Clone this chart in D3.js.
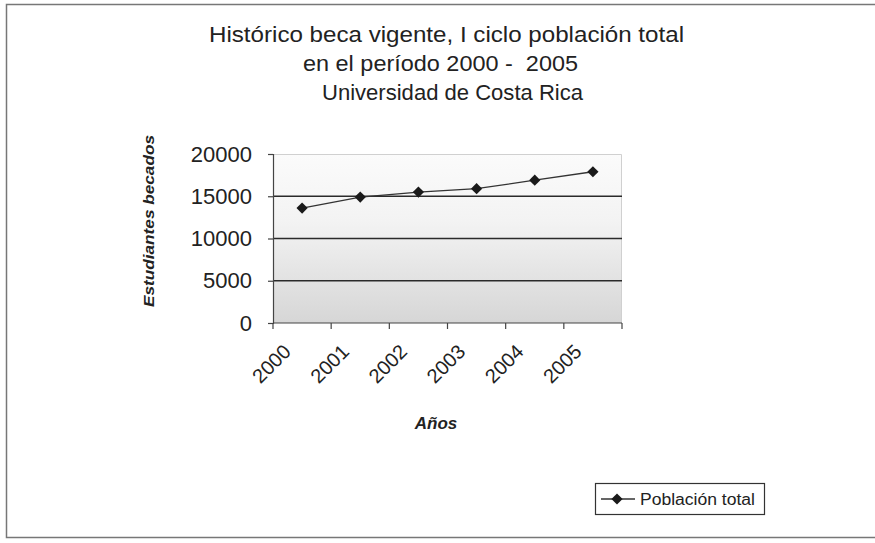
<!DOCTYPE html>
<html>
<head>
<meta charset="utf-8">
<script src="https://cdn.jsdelivr.net/npm/d3@7"></script>
<style>
  html, body { margin: 0; padding: 0; background: #fff; }
  svg { display: block; font-family: "Liberation Sans", Arial, sans-serif; }
</style>
</head>
<body>
<svg id="chart" width="875" height="543"></svg>
<script>
// Becas vigentes, I ciclo, población total (UCR)
const years = ["2000", "2001", "2002", "2003", "2004", "2005"];
const poblacionTotal = [13600, 14900, 15500, 15900, 16900, 17900];
const yTicks = [0, 5000, 10000, 15000, 20000];
const titleLines = [
  "Histórico beca vigente, I ciclo población total",
  "en el período 2000 -  2005",
  "Universidad de Costa Rica"
];
const seriesName = "Población total";

const svg = d3.select("#chart");
const ink = "#222";

// outer chart frame
svg.append("rect")
  .attr("x", 6.5).attr("y", 4.5)
  .attr("width", 880).attr("height", 533)
  .attr("fill", "#fff")
  .attr("stroke", "#777").attr("stroke-width", 1.5);

// title: each line set at its own start and run length
const titleLayout = [
  { x: 209, y: 42, len: 475 },
  { x: 303, y: 71, len: 275 },
  { x: 322, y: 100, len: 261 }
];
svg.append("g")
  .selectAll("text")
  .data(titleLines)
  .join("text")
  .attr("x", (d, i) => titleLayout[i].x)
  .attr("y", (d, i) => titleLayout[i].y)
  .attr("textLength", (d, i) => titleLayout[i].len)
  .attr("lengthAdjust", "spacingAndGlyphs")
  .attr("fill", ink)
  .style("font-size", "22px")
  .style("white-space", "pre")
  .text(d => d);

const plot = { left: 273, right: 622, top: 154, bottom: 323 };

const x = d3.scaleBand().domain(years).range([plot.left, plot.right]);
const y = d3.scaleLinear().domain([0, 20000]).range([plot.bottom, plot.top]);

// plot area background: light at top, greyer toward the base
const defs = svg.append("defs");
const grad = defs.append("linearGradient")
  .attr("id", "plotBg").attr("x1", 0).attr("y1", 0).attr("x2", 0).attr("y2", 1);
grad.append("stop").attr("offset", "0%").attr("stop-color", "#fbfbfb");
grad.append("stop").attr("offset", "40%").attr("stop-color", "#f3f3f3");
grad.append("stop").attr("offset", "100%").attr("stop-color", "#d6d6d6");

svg.append("rect")
  .attr("x", plot.left).attr("y", plot.top)
  .attr("width", plot.right - plot.left).attr("height", plot.bottom - plot.top)
  .attr("fill", "url(#plotBg)");

// faint top and right edges of the plot area
svg.append("path")
  .attr("d", `M${plot.left},${plot.top + 0.5}H${plot.right - 0.5}V${plot.bottom}`)
  .attr("fill", "none").attr("stroke", "#d0d0d0").attr("stroke-width", 1);

// horizontal gridlines
svg.append("g")
  .selectAll("line")
  .data(yTicks.filter(v => v > 0 && v < 20000))
  .join("line")
  .attr("x1", plot.left).attr("x2", plot.right)
  .attr("y1", d => y(d)).attr("y2", d => y(d))
  .attr("stroke", "#2a2a2a").attr("stroke-width", 1.6);

// y axis
const yAxis = svg.append("g")
  .attr("transform", `translate(${plot.left},0)`)
  .call(d3.axisLeft(y).tickValues(yTicks).tickFormat(d3.format("d")).tickSize(5).tickPadding(16));
yAxis.select(".domain").attr("stroke", "#444").attr("stroke-width", 1.2);
yAxis.selectAll(".tick line").attr("stroke", "#444").attr("stroke-width", 1.2);
yAxis.selectAll(".tick text")
  .attr("fill", ink)
  .style("font-size", "22px")
  .style("font-family", "'Liberation Sans', Arial, sans-serif");

// x axis with ticks on category boundaries
const xAxisG = svg.append("g").attr("transform", `translate(0,${plot.bottom})`);
xAxisG.append("line")
  .attr("x1", plot.left).attr("x2", plot.right)
  .attr("stroke", "#444").attr("stroke-width", 1.2);
const boundaries = years.map(d => x(d)).concat([x(years[years.length - 1]) + x.bandwidth()]);
xAxisG.selectAll("line.tick")
  .data(boundaries)
  .join("line")
  .attr("class", "tick")
  .attr("x1", d => d).attr("x2", d => d)
  .attr("y1", 0).attr("y2", 6)
  .attr("stroke", "#444").attr("stroke-width", 1.2);
xAxisG.selectAll("text.label")
  .data(years)
  .join("text")
  .attr("class", "label")
  .attr("text-anchor", "end")
  .attr("fill", ink)
  .style("font-size", "20px")
  .attr("transform", d => `translate(${x(d) + x.bandwidth() / 2 - 10},${30}) rotate(-45)`)
  .text(d => d);

// axis titles
svg.append("text")
  .attr("x", 436).attr("y", 429)
  .attr("text-anchor", "middle")
  .attr("fill", ink)
  .style("font-size", "17px").style("font-weight", "bold").style("font-style", "italic")
  .text("Años");

svg.append("text")
  .attr("transform", "translate(154,221) rotate(-90)")
  .attr("text-anchor", "middle")
  .attr("textLength", 172)
  .attr("lengthAdjust", "spacingAndGlyphs")
  .attr("fill", ink)
  .style("font-size", "15px").style("font-weight", "bold").style("font-style", "italic")
  .text("Estudiantes becados");

// series line and diamond markers
const pts = years.map((d, i) => [x(d) + x.bandwidth() / 2, y(poblacionTotal[i])]);
svg.append("path")
  .attr("d", d3.line()(pts))
  .attr("fill", "none").attr("stroke", "#333").attr("stroke-width", 1.3);

const diamond = d3.symbol().type(d3.symbolDiamond2).size(80);
svg.append("g")
  .selectAll("path")
  .data(pts)
  .join("path")
  .attr("d", diamond)
  .attr("transform", d => `translate(${d[0]},${d[1]})`)
  .attr("fill", "#1a1a1a");

// legend
const lg = svg.append("g").attr("transform", "translate(595,483)");
lg.append("rect")
  .attr("x", 0.5).attr("y", 0.5).attr("width", 169).attr("height", 31)
  .attr("fill", "#fff").attr("stroke", "#333").attr("stroke-width", 1.2);
lg.append("line")
  .attr("x1", 6).attr("x2", 40).attr("y1", 16).attr("y2", 16)
  .attr("stroke", "#333").attr("stroke-width", 1.3);
lg.append("path")
  .attr("d", diamond)
  .attr("transform", "translate(22,16)")
  .attr("fill", "#1a1a1a");
lg.append("text")
  .attr("x", 45).attr("y", 22)
  .attr("textLength", 115)
  .attr("lengthAdjust", "spacingAndGlyphs")
  .attr("fill", ink)
  .style("font-size", "16px")
  .text(seriesName);
</script>
</body>
</html>
